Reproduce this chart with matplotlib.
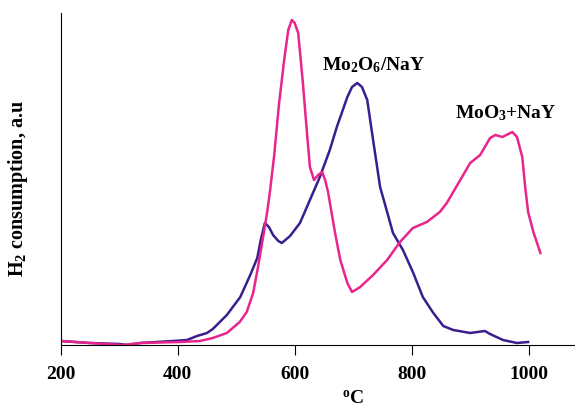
import matplotlib
matplotlib.use('Agg')
import matplotlib.pyplot as plt

NAVY = '#3A1D8E'
MAGENTA = '#E8258C'

# MoO3+NaY (magenta)
moo3_t = [200, 250, 306, 336, 404, 438, 460, 484, 506, 518, 529, 537, 546, 553,
          558, 565, 573, 582, 589, 595, 600, 606, 614, 621, 626, 633, 640, 647,
          652, 657, 669, 678, 690, 698, 712, 734, 758, 780, 802, 826, 848, 860,
          883, 900, 917, 934, 943, 955, 972, 980, 989, 994, 999, 1008, 1020]
moo3_h = [4, 2, 0, 2, 3, 4, 7, 12, 23, 33, 52, 77, 108, 133,
          155, 190, 240, 285, 315, 325, 322, 312, 262, 212, 178, 165, 170, 173,
          165, 153, 112, 85, 62, 53, 58, 70, 85, 103, 117, 123, 133, 142,
          165, 182, 190, 207, 210, 208, 213, 208, 188, 158, 133, 113, 92]

# Mo2O6/NaY (navy)
mo2o6_t = [200, 250, 301, 313, 336, 392, 416, 433, 450, 460, 484, 507, 524, 536,
           542, 549, 556, 563, 572, 578, 592, 609, 626, 643, 660, 672, 690, 698,
           707, 715, 724, 734, 746, 758, 768, 785, 802, 819, 837, 854, 871, 900,
           925, 934, 956, 980, 999]
mo2o6_h = [4, 2, 1, 0, 2, 4, 5, 9, 12, 16, 30, 48, 70, 87,
           105, 122, 118, 110, 104, 102, 109, 122, 145, 168, 195, 218, 248, 258,
           262, 258, 245, 205, 158, 133, 112, 95, 73, 48, 32, 19, 15, 12,
           14, 11, 5, 2, 3]

xticks = [200, 400, 600, 800, 1000]

plt.rcParams['font.family'] = 'Liberation Serif'
plt.rcParams['font.weight'] = 'bold'
plt.rcParams['mathtext.fontset'] = 'custom'
plt.rcParams['mathtext.rm'] = 'Liberation Serif:bold'
plt.rcParams['mathtext.it'] = 'Liberation Serif:bold'
plt.rcParams['mathtext.bf'] = 'Liberation Serif:bold'

fig = plt.figure(figsize=(5.75, 4.07), dpi=100)
# axis runs to 1200, the right part is cut off by the figure edge
ax = fig.add_axes([60.7 / 575, 62 / 407, 585 / 575, 332 / 407])

ax.plot(mo2o6_t, mo2o6_h, color=NAVY, lw=1.8)
ax.plot(moo3_t, moo3_h, color=MAGENTA, lw=1.8)

ax.set_xlim(200, 1200)
ax.set_ylim(0, 332)
ax.set_xticks(xticks)
ax.set_xticklabels([str(t) for t in xticks], fontsize=14, fontweight='bold')
ax.set_yticks([])
ax.tick_params(axis='x', direction='out', length=7, width=0.8, pad=8)

for s in ['top', 'right']:
  ax.spines[s].set_visible(False)
for s in ['left', 'bottom']:
  ax.spines[s].set_linewidth(0.8)

ax.set_xlabel('$^{\\rm o}$C', fontsize=14, fontweight='bold', labelpad=5)
ax.set_ylabel('H$_2$ consumption, a.u', fontsize=14.5, fontweight='bold')
ax.yaxis.set_label_coords(-0.052, 0.47)

ax.text(735, 280, 'Mo$_2$O$_6$/NaY', fontsize=14, fontweight='bold', ha='center', va='center')
ax.text(960, 232, 'MoO$_3$+NaY', fontsize=14, fontweight='bold', ha='center', va='center')

fig.savefig('out.png', dpi=100)
